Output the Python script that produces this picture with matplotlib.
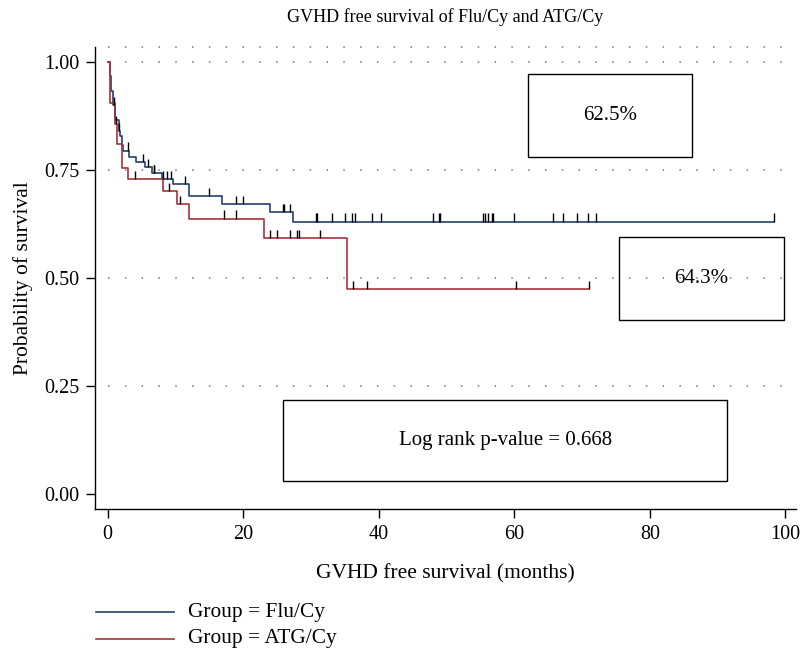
import numpy as np
import matplotlib
matplotlib.use('Agg')
from matplotlib import pyplot as plt
from matplotlib.lines import Line2D
from matplotlib.patches import Rectangle

plt.rcParams['font.family'] = ['Liberation Serif', 'DejaVu Serif']

# Kaplan-Meier steps: (time in months, survival after the drop)
flu_times = [0, 0.3, 0.5, 0.75, 1.1, 1.6, 1.8, 2.1, 2.3, 3.2, 4.2, 5.5, 6.5, 8.0, 9.7, 12.0, 16.9, 24.0, 27.3]
flu_surv = [1.0, 0.967, 0.932, 0.90, 0.866, 0.84, 0.829, 0.808, 0.795, 0.781, 0.769, 0.757, 0.743, 0.730,
            0.717, 0.689, 0.672, 0.652, 0.631]
flu_end = 98.3
flu_censor = [0.9, 1.6, 2.95, 5.2, 5.9, 6.8, 6.9, 8.1, 8.7, 9.3, 11.4, 15.0, 18.9, 19.9, 25.9, 26.0, 26.9,
              30.8, 30.9, 33.1, 35.0, 36.0, 36.5, 39.0, 40.4, 48.0, 48.9, 49.1, 55.4, 55.7, 56.1, 56.7,
              56.9, 59.9, 65.7, 67.2, 69.3, 70.9, 72.0, 98.3]

atg_times = [0, 0.35, 1.1, 1.4, 2.1, 2.95, 8.1, 10.3, 12.0, 23.0, 35.3]
atg_surv = [1.0, 0.905, 0.857, 0.81, 0.756, 0.730, 0.701, 0.671, 0.638, 0.593, 0.474]
atg_end = 71.0
atg_censor = [1.3, 4.1, 9.1, 10.6, 17.1, 19.0, 24.0, 25.0, 26.9, 27.9, 28.3, 31.4, 36.2, 38.2, 60.2, 71.0]

groups = ['Flu/Cy', 'ATG/Cy']
box_labels = ['62.5%', '64.3%', 'Log rank p-value = 0.668']

BLUE = '#24406e'
RED = '#a8323a'


def step_curve(ax, times, surv, end, censor, color):
    xs = list(times) + [end]
    ys = list(surv) + [surv[-1]]
    ax.step(xs, ys, where='post', color=color, lw=1.2, zorder=3)
    idx = np.searchsorted(times, censor, side='right') - 1
    cy = np.asarray(surv)[idx]
    ax.vlines(censor, cy, cy + 0.019, color='black', lw=1.0, zorder=4)


fig = plt.figure(figsize=(8.05, 6.52), dpi=100)
ax = fig.add_axes([0.1186, 0.2188, 0.8696, 0.7092])
ax.set_xlim(-1.8, 101.5)
ax.set_ylim(-0.035, 1.035)

for gy in [0.25, 0.5, 0.75, 1.0, 1.035]:
    ax.hlines(gy, 0, 101.5, colors='#777777', lw=1.1, linestyles=(0, (1, 10)), zorder=1, clip_on=False)

step_curve(ax, flu_times, flu_surv, flu_end, flu_censor, BLUE)
step_curve(ax, atg_times, atg_surv, atg_end, atg_censor, RED)

boxes = [(62.0, 0.781, 24.2, 0.192), (75.5, 0.403, 24.3, 0.193), (25.9, 0.030, 65.5, 0.189)]
for (bx, by, bw, bh), label in zip(boxes, box_labels):
    ax.add_patch(Rectangle((bx, by), bw, bh, fill=False, ec='black', lw=1.0, zorder=5))
    ax.text(bx + bw / 2, by + bh / 2, label, ha='center', va='center', fontsize=15)

ax.spines['top'].set_visible(False)
ax.spines['right'].set_visible(False)
ax.spines['left'].set_linewidth(1.0)
ax.spines['bottom'].set_linewidth(1.0)
ax.set_xticks([0, 20, 40, 60, 80, 100])
ax.set_yticks([0, 0.25, 0.5, 0.75, 1.0])
ax.set_yticklabels(['0.00', '0.25', '0.50', '0.75', '1.00'])
ax.tick_params(direction='out', length=6.5, width=1.0, labelsize=14.5, pad=5)

ax.set_title('GVHD free survival of Flu/Cy and ATG/Cy', fontsize=13, pad=18)
ax.set_xlabel('GVHD free survival (months)', fontsize=15.5, labelpad=14)
ax.set_ylabel('Probability of survival', fontsize=15.5, labelpad=8)

# legend below the axes, drawn by hand so the row spacing matches
for label, color, ly in zip(groups, [BLUE, RED], [612, 639]):
    yf = 1 - ly / 652
    fig.add_artist(Line2D([96 / 805, 174 / 805], [yf, yf], color=color, lw=1.2))
    fig.text(188 / 805, yf, f'Group = {label}', ha='left', va='center', fontsize=15.4)

fig.savefig('out.png', dpi=100)
